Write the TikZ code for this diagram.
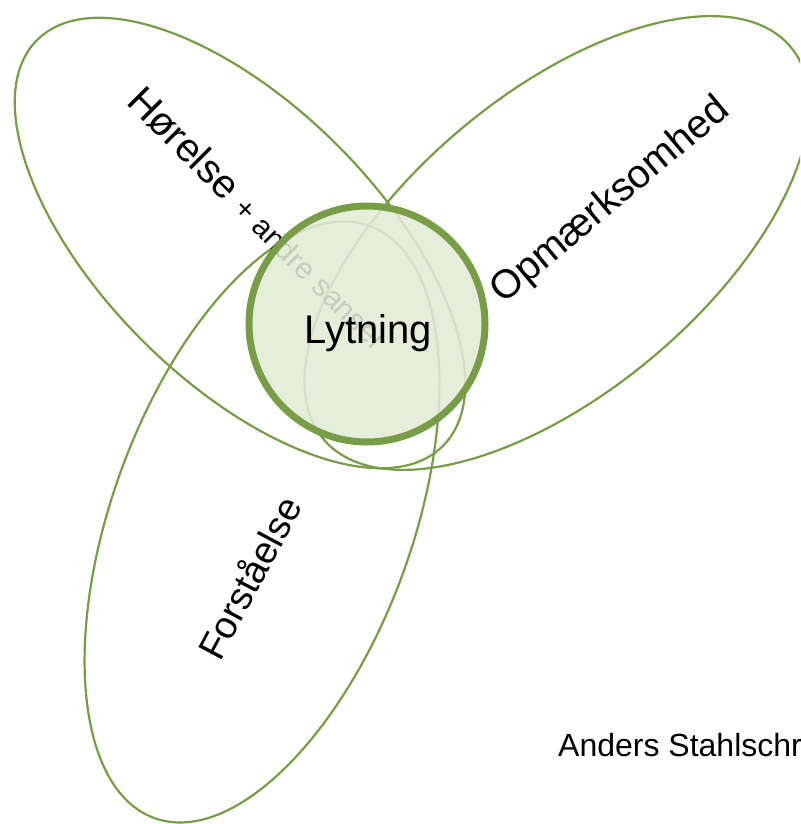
\documentclass[tikz,border=0pt]{standalone}
\usepackage{fontspec}
\setmainfont{Liberation Sans}
\definecolor{lineGreen}{RGB}{119,157,71}
\definecolor{fillGreen}{RGB}{225,234,214}

\begin{document}
\begin{tikzpicture}[
    x=1pt, y=-1pt, % pixel-like coordinates, y going down
    ring/.style={draw=lineGreen, line width=2.2pt},
    word/.style={text=black, font=\fontsize{40}{48}\selectfont, inner sep=0pt},
  ]
    \useasboundingbox (0,0) rectangle (800,824);
    \clip (0,0) rectangle (800,824);

    % Three overlapping ellipses
    \draw[ring] (240,243) ellipse [x radius=287, y radius=138, rotate=-45];
    \draw[ring] (557,243) ellipse [x radius=305, y radius=149, rotate=40];
    \draw[ring] (262,522) ellipse [x radius=315, y radius=150, rotate=70];

    % Labels along the ellipses
    \node[word, rotate=-45, anchor=base west] (horelse) at (125,103)
      {Hørelse {\fontsize{30}{36}\selectfont + andre sanser}};
    \node[word, rotate=40, anchor=base west] (opmaerksomhed) at (503,305)
      {Opmærksomhed};
    \node[word, rotate=62, anchor=base west, font=\fontsize{38}{46}\selectfont]
      (forstaaelse) at (220,663) {Forståelse};

    % Centre circle, slightly see-through
    \node[
      circle,
      minimum size=236,
      draw=lineGreen,
      line width=7pt,
      fill=fillGreen,
      fill opacity=0.88,
      draw opacity=1,
    ] (lytning) at (367,324) {};
    \node[word, anchor=base] (lytningtext) at (368,343) {Lytning};

    % Name in the corner
    \node[word, anchor=base west, font=\fontsize{32}{38}\selectfont] (author)
      at (558,756) {Anders Stahlschr};
  \end{tikzpicture}
\end{document}
